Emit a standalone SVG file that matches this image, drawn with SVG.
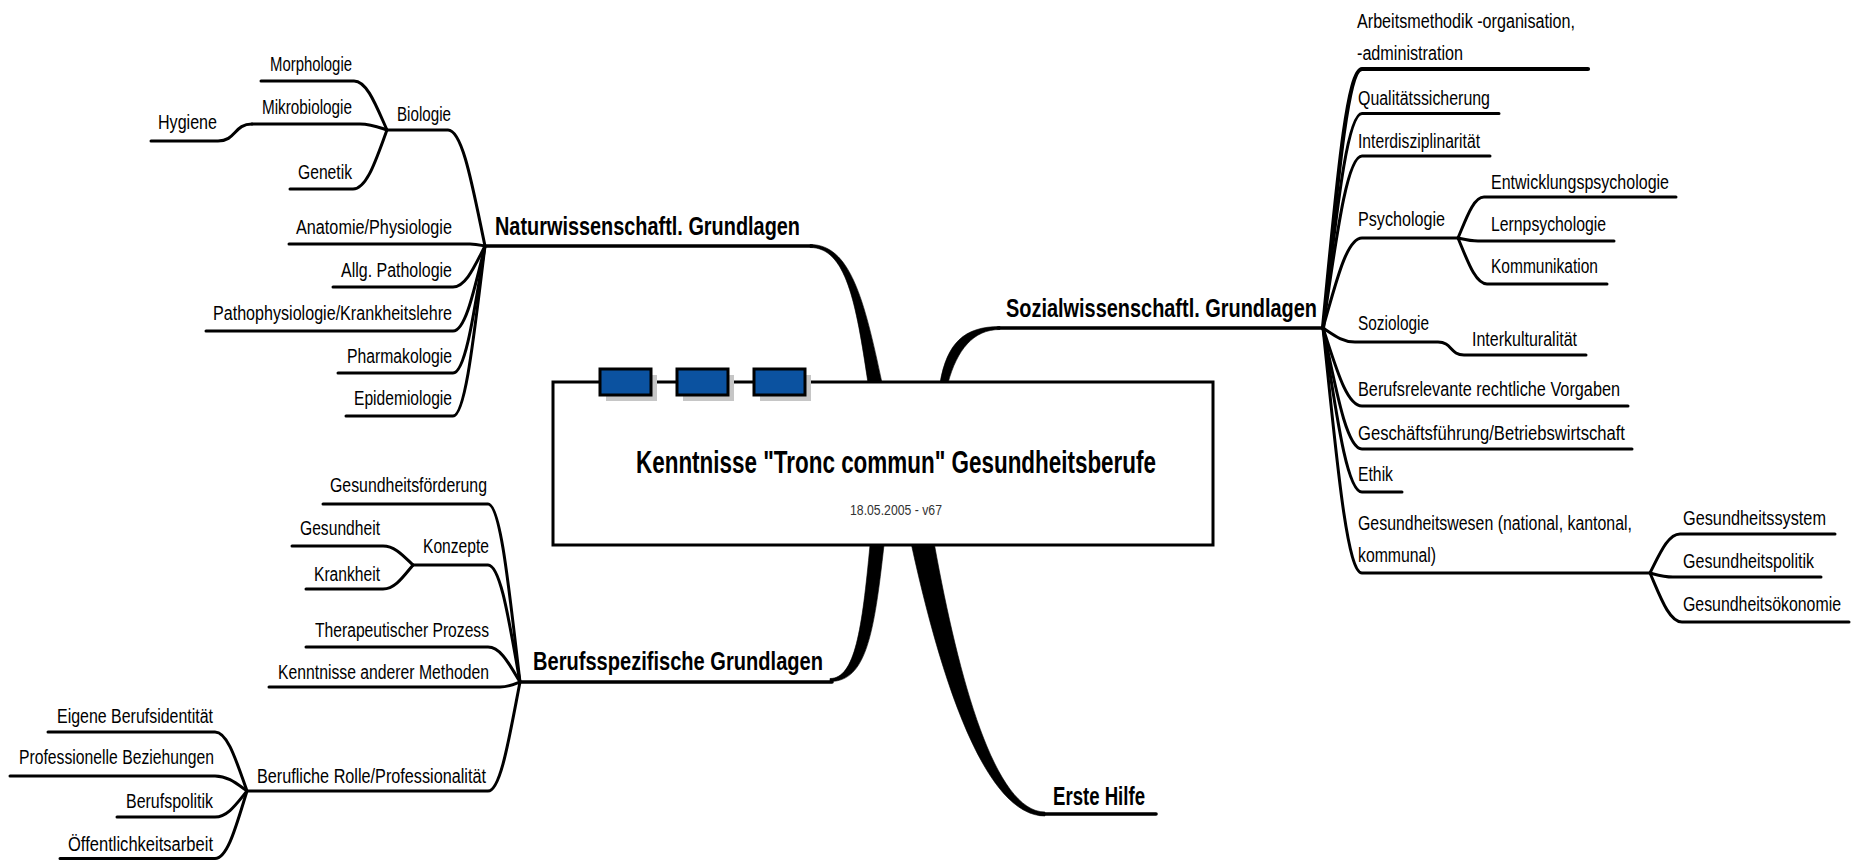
<svg xmlns="http://www.w3.org/2000/svg" width="1854" height="861" viewBox="0 0 1854 861">
<style>
.t{font-family:"Liberation Sans",Arial,sans-serif;font-size:20px;fill:#000}
.b{font-family:"Liberation Sans",Arial,sans-serif;font-size:26px;font-weight:bold;fill:#000}
.ttl{font-family:"Liberation Sans",Arial,sans-serif;font-size:31px;font-weight:bold;fill:#000}
.dt{font-family:"Liberation Sans",Arial,sans-serif;font-size:15px;fill:#333}
.ln{fill:none;stroke:#000;stroke-width:3;stroke-linecap:round;stroke-linejoin:round}
.lm{fill:none;stroke:#000;stroke-width:3.6;stroke-linecap:round}
.tp{fill:#000;stroke:#000;stroke-width:0.6}
.sq{fill:#0b52a0;stroke:#000;stroke-width:3}
.sh{fill:#c6c6c6}
</style>
<rect width="1854" height="861" fill="#fff"/>
<g id="connectors">
  <path class="lm" d="M485,246 H812"/>
  <path class="tp" d="M810,244.5 C850,244.5 864,298 882,383 L868,383 C856,302 846,247.5 810,247.5 Z"/>
  <path class="lm" d="M998,328 H1323"/>
  <path class="tp" d="M940,383 C947,343 964,326.5 1000,326.5 L1000,329.5 C973,329.5 957,350 948,383 Z"/>
  <path class="lm" d="M520,682 H832"/>
  <path class="tp" d="M884,545 C874,635 866,681.5 830,681.5 L830,678.5 C855,678.5 862,630 870,545 Z"/>
  <path class="lm" d="M1040,814 H1156"/>
  <path class="tp" d="M911.5,545 L934.5,545 C959,680 995,812 1045,812 L1045,816 C985,816 941,680 911.5,545 Z"/>
  <path class="ln" d="M387,130 H448 C462.8,130 472.8,188 485,246"/>
  <path class="ln" d="M289,244 H470 C476,244 480,245 485,246"/>
  <path class="ln" d="M333,287 H453 C465.8,287 474.4,266.5 485,246"/>
  <path class="ln" d="M206,331 H453 C465.8,331 474.4,288.5 485,246"/>
  <path class="ln" d="M338,373 H453 C465.8,373 474.4,309.5 485,246"/>
  <path class="ln" d="M346,416 H453 C465.8,416 474.4,331 485,246"/>
  <path class="ln" d="M261,81 H354 C367,81 376,105.5 387,130"/>
  <path class="ln" d="M252,124 H360 C371,124 378,127 387,130"/>
  <path class="ln" d="M290,189 H353 C367,189 376,159.5 387,130"/>
  <path class="ln" d="M151,141 H218 C236,141 234,124 252,124"/>
  <path class="ln" style="stroke-width:4.2" d="M1323,328 C1335.9,198.5 1346.4,69 1362,69 H1588"/>
  <path class="ln" d="M1323,328 C1335.9,220.8 1346.4,113.5 1362,113.5 H1499"/>
  <path class="ln" d="M1323,328 C1335.9,242 1346.4,156 1362,156 H1490"/>
  <path class="ln" d="M1323,328 C1335.9,283 1346.4,238 1362,238 H1458"/>
  <path class="ln" d="M1323,328 C1333.6,335 1342.2,342 1355,342 H1438 C1452,342 1450,355 1464,355 H1586"/>
  <path class="ln" d="M1323,328 C1335.9,367 1346.4,406 1362,406 H1628"/>
  <path class="ln" d="M1323,328 C1335.9,388.5 1346.4,449 1362,449 H1632"/>
  <path class="ln" d="M1323,328 C1335.9,410 1346.4,492 1362,492 H1402"/>
  <path class="ln" d="M1323,328 C1335.9,450.5 1346.4,573 1362,573 H1650"/>
  <path class="ln" d="M1458,238 C1466.6,217.5 1473.6,197 1484,197 H1676"/>
  <path class="ln" d="M1458,238 C1464.6,239.5 1470,241 1478,241 H1614"/>
  <path class="ln" d="M1458,238 C1467.6,261 1475.4,284 1487,284 H1607"/>
  <path class="ln" d="M1650,573 C1659.9,553.5 1668,534 1680,534 H1835"/>
  <path class="ln" d="M1650,573 C1657.6,575 1663.8,577 1673,577 H1821"/>
  <path class="ln" d="M1650,573 C1660.6,597.5 1669.2,622 1682,622 H1849"/>
  <path class="ln" d="M323,504 H488 C500.8,504 509.4,593 520,682"/>
  <path class="ln" d="M413,565 H488 C500.8,565 509.4,623.5 520,682"/>
  <path class="ln" d="M306,647 H488 C500.8,647 509.4,664.5 520,682"/>
  <path class="ln" d="M269,687 H500 C508,687 513.4,684.5 520,682"/>
  <path class="ln" d="M247,791 H488 C500.8,791 509.4,736.5 520,682"/>
  <path class="ln" d="M292,546 H383 C395,546 403,555.5 413,565"/>
  <path class="ln" d="M306,589 H383 C395,589 403,577 413,565"/>
  <path class="ln" d="M48,732 H215 C227.8,732 236.4,761.5 247,791"/>
  <path class="ln" d="M10,776 H215 C227.8,776 236.4,783.5 247,791"/>
  <path class="ln" d="M117,817 H215 C227.8,817 236.4,804 247,791"/>
  <path class="ln" d="M60,858.5 H215 C227.8,858.5 236.4,825 247,791"/>
</g>
<g id="node-central">
  <rect x="553" y="382" width="660" height="163" fill="#fff" stroke="#000" stroke-width="3"/>
  <rect class="sh" x="606" y="375" width="51" height="26"/>
  <rect class="sq" x="600" y="369" width="51" height="26"/>
  <rect class="sh" x="683" y="375" width="51" height="26"/>
  <rect class="sq" x="677" y="369" width="51" height="26"/>
  <rect class="sh" x="760" y="375" width="51" height="26"/>
  <rect class="sq" x="754" y="369" width="51" height="26"/>
  <text class="ttl" transform="translate(636 473) scale(0.8 1)" textLength="650" lengthAdjust="spacingAndGlyphs">Kenntnisse "Tronc commun" Gesundheitsberufe</text>
  <text class="dt" transform="translate(850 515) scale(0.8 1)" textLength="115" lengthAdjust="spacingAndGlyphs">18.05.2005 - v67</text>
</g>
<g id="node-naturwissenschaftl"><text class="b" transform="translate(495 235) scale(0.8 1)" textLength="381.25" lengthAdjust="spacingAndGlyphs">Naturwissenschaftl. Grundlagen</text></g>
<g id="node-biologie"><text class="t" transform="translate(397 121) scale(0.8 1)" textLength="67.5" lengthAdjust="spacingAndGlyphs">Biologie</text></g>
<g id="node-morphologie"><text class="t" transform="translate(270 71) scale(0.8 1)" textLength="102.5" lengthAdjust="spacingAndGlyphs">Morphologie</text></g>
<g id="node-mikrobiologie"><text class="t" transform="translate(262 114) scale(0.8 1)" textLength="112.5" lengthAdjust="spacingAndGlyphs">Mikrobiologie</text></g>
<g id="node-hygiene"><text class="t" transform="translate(158 129) scale(0.8 1)" textLength="73.75" lengthAdjust="spacingAndGlyphs">Hygiene</text></g>
<g id="node-genetik"><text class="t" transform="translate(298 179) scale(0.8 1)" textLength="67.5" lengthAdjust="spacingAndGlyphs">Genetik</text></g>
<g id="node-anatomie"><text class="t" transform="translate(296 234) scale(0.8 1)" textLength="195" lengthAdjust="spacingAndGlyphs">Anatomie/Physiologie</text></g>
<g id="node-allg-pathologie"><text class="t" transform="translate(341 277) scale(0.8 1)" textLength="138.75" lengthAdjust="spacingAndGlyphs">Allg. Pathologie</text></g>
<g id="node-pathophysiologie"><text class="t" transform="translate(213 320) scale(0.8 1)" textLength="298.75" lengthAdjust="spacingAndGlyphs">Pathophysiologie/Krankheitslehre</text></g>
<g id="node-pharmakologie"><text class="t" transform="translate(347 363) scale(0.8 1)" textLength="131.25" lengthAdjust="spacingAndGlyphs">Pharmakologie</text></g>
<g id="node-epidemiologie"><text class="t" transform="translate(354 405) scale(0.8 1)" textLength="122.5" lengthAdjust="spacingAndGlyphs">Epidemiologie</text></g>
<g id="node-berufsspezifische"><text class="b" transform="translate(533 670) scale(0.8 1)" textLength="362.5" lengthAdjust="spacingAndGlyphs">Berufsspezifische Grundlagen</text></g>
<g id="node-gesundheitsfoerderung"><text class="t" transform="translate(330 492) scale(0.8 1)" textLength="196.25" lengthAdjust="spacingAndGlyphs">Gesundheitsförderung</text></g>
<g id="node-konzepte"><text class="t" transform="translate(423 553) scale(0.8 1)" textLength="82.5" lengthAdjust="spacingAndGlyphs">Konzepte</text></g>
<g id="node-gesundheit"><text class="t" transform="translate(300 535) scale(0.8 1)" textLength="100" lengthAdjust="spacingAndGlyphs">Gesundheit</text></g>
<g id="node-krankheit"><text class="t" transform="translate(314 581) scale(0.8 1)" textLength="82.5" lengthAdjust="spacingAndGlyphs">Krankheit</text></g>
<g id="node-therapeutischer"><text class="t" transform="translate(315 637) scale(0.8 1)" textLength="217.5" lengthAdjust="spacingAndGlyphs">Therapeutischer Prozess</text></g>
<g id="node-kenntnisse-methoden"><text class="t" transform="translate(278 679) scale(0.8 1)" textLength="263.75" lengthAdjust="spacingAndGlyphs">Kenntnisse anderer Methoden</text></g>
<g id="node-berufliche-rolle"><text class="t" transform="translate(257 783) scale(0.8 1)" textLength="286.25" lengthAdjust="spacingAndGlyphs">Berufliche Rolle/Professionalität</text></g>
<g id="node-eigene"><text class="t" transform="translate(57 723) scale(0.8 1)" textLength="195" lengthAdjust="spacingAndGlyphs">Eigene Berufsidentität</text></g>
<g id="node-professionelle"><text class="t" transform="translate(19 764) scale(0.8 1)" textLength="243.75" lengthAdjust="spacingAndGlyphs">Professionelle Beziehungen</text></g>
<g id="node-berufspolitik"><text class="t" transform="translate(126 808) scale(0.8 1)" textLength="108.75" lengthAdjust="spacingAndGlyphs">Berufspolitik</text></g>
<g id="node-oeffentlichkeit"><text class="t" transform="translate(68 851) scale(0.8 1)" textLength="181.25" lengthAdjust="spacingAndGlyphs">Öffentlichkeitsarbeit</text></g>
<g id="node-erste-hilfe"><text class="b" transform="translate(1053 805) scale(0.8 1)" textLength="115" lengthAdjust="spacingAndGlyphs">Erste Hilfe</text></g>
<g id="node-sozialwissenschaftl"><text class="b" transform="translate(1006 317) scale(0.8 1)" textLength="388.75" lengthAdjust="spacingAndGlyphs">Sozialwissenschaftl. Grundlagen</text></g>
<g id="node-arbeitsmethodik"><text class="t" transform="translate(1357 28) scale(0.8 1)" textLength="272.5" lengthAdjust="spacingAndGlyphs">Arbeitsmethodik -organisation,</text><text class="t" transform="translate(1357 60) scale(0.8 1)" textLength="132.5" lengthAdjust="spacingAndGlyphs">-administration</text></g>
<g id="node-qualitaet"><text class="t" transform="translate(1358 105) scale(0.8 1)" textLength="165" lengthAdjust="spacingAndGlyphs">Qualitätssicherung</text></g>
<g id="node-interdisziplinaritaet"><text class="t" transform="translate(1358 148) scale(0.8 1)" textLength="152.5" lengthAdjust="spacingAndGlyphs">Interdisziplinarität</text></g>
<g id="node-psychologie"><text class="t" transform="translate(1358 226) scale(0.8 1)" textLength="108.75" lengthAdjust="spacingAndGlyphs">Psychologie</text></g>
<g id="node-entwicklung"><text class="t" transform="translate(1491 189) scale(0.8 1)" textLength="222.5" lengthAdjust="spacingAndGlyphs">Entwicklungspsychologie</text></g>
<g id="node-lernpsychologie"><text class="t" transform="translate(1491 231) scale(0.8 1)" textLength="143.75" lengthAdjust="spacingAndGlyphs">Lernpsychologie</text></g>
<g id="node-kommunikation"><text class="t" transform="translate(1491 273) scale(0.8 1)" textLength="133.75" lengthAdjust="spacingAndGlyphs">Kommunikation</text></g>
<g id="node-soziologie"><text class="t" transform="translate(1358 330) scale(0.8 1)" textLength="88.75" lengthAdjust="spacingAndGlyphs">Soziologie</text></g>
<g id="node-interkulturalitaet"><text class="t" transform="translate(1472 346) scale(0.8 1)" textLength="131.25" lengthAdjust="spacingAndGlyphs">Interkulturalität</text></g>
<g id="node-berufsrelevante"><text class="t" transform="translate(1358 396) scale(0.8 1)" textLength="327.5" lengthAdjust="spacingAndGlyphs">Berufsrelevante rechtliche Vorgaben</text></g>
<g id="node-geschaeftsfuehrung"><text class="t" transform="translate(1358 440) scale(0.8 1)" textLength="333.75" lengthAdjust="spacingAndGlyphs">Geschäftsführung/Betriebswirtschaft</text></g>
<g id="node-ethik"><text class="t" transform="translate(1358 481) scale(0.8 1)" textLength="43.75" lengthAdjust="spacingAndGlyphs">Ethik</text></g>
<g id="node-gesundheitswesen"><text class="t" transform="translate(1358 530) scale(0.8 1)" textLength="342.5" lengthAdjust="spacingAndGlyphs">Gesundheitswesen (national, kantonal,</text><text class="t" transform="translate(1358 562) scale(0.8 1)" textLength="97.5" lengthAdjust="spacingAndGlyphs">kommunal)</text></g>
<g id="node-gesundheitssystem"><text class="t" transform="translate(1683 525) scale(0.8 1)" textLength="178.75" lengthAdjust="spacingAndGlyphs">Gesundheitssystem</text></g>
<g id="node-gesundheitspolitik"><text class="t" transform="translate(1683 568) scale(0.8 1)" textLength="163.75" lengthAdjust="spacingAndGlyphs">Gesundheitspolitik</text></g>
<g id="node-gesundheitsoekonomie"><text class="t" transform="translate(1683 611) scale(0.8 1)" textLength="197.5" lengthAdjust="spacingAndGlyphs">Gesundheitsökonomie</text></g>
</svg>
